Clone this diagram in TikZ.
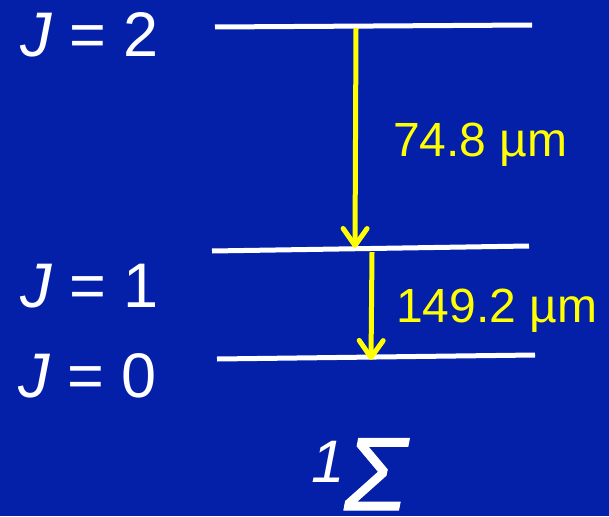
\documentclass[tikz,border=0pt]{standalone}
\usepackage{fontspec}
\setmainfont{Liberation Sans}
\newfontfamily\sigmafont[FakeBold=1]{Liberation Sans}
\usetikzlibrary{arrows.meta}
\definecolor{bgblue}{RGB}{4,32,168}
\definecolor{lvlyellow}{RGB}{255,255,0}
\tikzset{
  level/.style={draw=white, line width=5pt},
  trans/.style={draw=lvlyellow, line width=5pt, -{Straight Barb[length=17pt,width=24pt,line cap=round,line join=round]}},
  jlabel/.style={text=white, anchor=base west, inner sep=0pt, font=\fontsize{63}{63}\selectfont},
  wlabel/.style={text=lvlyellow, anchor=base west, inner sep=0pt, font=\fontsize{48}{48}\selectfont},
}
\begin{document}
\begin{tikzpicture}[x=1pt,y=-1pt]
\fill[bgblue] (0,0) rectangle (609,516);
\useasboundingbox (0,0) rectangle (609,516);
% level end points
\coordinate (l2a) at (215,27);
\coordinate (l2b) at (532,25);
\coordinate (l1a) at (212,251);
\coordinate (l1b) at (529,246);
\coordinate (l0a) at (217,359);
\coordinate (l0b) at (535,355);
\draw[level] (l2a) -- (l2b);
\draw[level] (l1a) -- (l1b);
\draw[level] (l0a) -- (l0b);
% transition end points
\coordinate (t1s) at (356,28);
\coordinate (t1e) at (355,248);
\coordinate (t2s) at (372,252);
\coordinate (t2e) at (371,360);
\draw[trans] (t1s) -- (t1e);
\draw[trans] (t2s) -- (t2e);
% labels
\node[jlabel] (j2) at (20,57) {\textit{J} = 2};
\node[jlabel] (j1) at (20,307) {\textit{J} = 1};
\node[jlabel] (j0) at (18,397) {\textit{J} = 0};
\node[wlabel] (w1) at (393,156) {74.8 µm};
\node[wlabel] (w2) at (396,322) {149.2 µm};
\node[text=white, anchor=base west, inner sep=0pt, font=\fontsize{60}{60}\selectfont\itshape] (sup) at (311,482) {1};
\node[text=white, anchor=base west, inner sep=0pt, font=\sigmafont\fontsize{104}{104}\selectfont\itshape] (sig) at (344,510) {Σ};
\end{tikzpicture}
\end{document}
